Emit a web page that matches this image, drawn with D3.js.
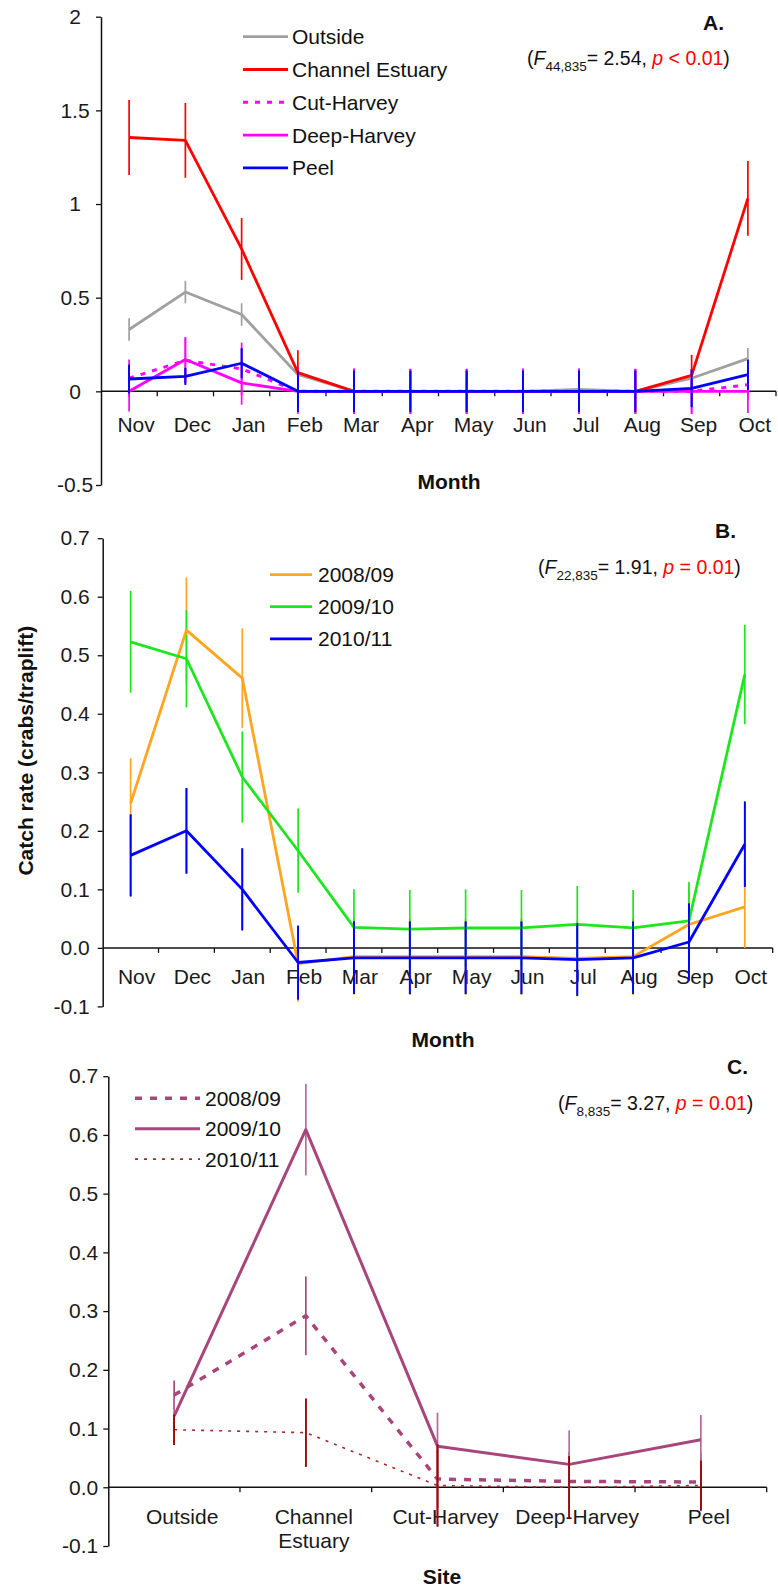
<!DOCTYPE html>
<html><head><meta charset="utf-8">
<script src="https://cdn.jsdelivr.net/npm/d3@7"></script>
<style>
body{margin:0;background:#fff}
svg text{font-family:"Liberation Sans",Arial,sans-serif}
</style>
</head><body>
<svg id="chart" width="778" height="1591"></svg>
<script>
// ---------- Panel A data (by month, per site) ----------
const months = ["Nov","Dec","Jan","Feb","Mar","Apr","May","Jun","Jul","Aug","Sep","Oct"];
const aOutside     = [0.33, 0.53, 0.41, 0.09, 0, 0, 0, 0, 0.01, 0, 0.07, 0.175];
const aOutsideErr  = [0.06, 0.06, 0.06, 0.05, 0.05, 0.05, 0.05, 0.05, 0.05, 0.05, 0.05, 0.056];
const aChannel     = [1.355, 1.34, 0.76, 0.10, 0, 0, 0, 0, 0, 0, 0.085, 1.03];
const aChannelErr  = [0.2, 0.2, 0.165, 0.12, 0.12, 0.12, 0.12, 0.12, 0.12, 0.12, 0.11, 0.2];
const aCut         = [0.07, 0.165, 0.12, 0, 0, 0, 0, 0, 0, 0, 0, 0.035];
const aCutErr      = [0.1, 0.12, 0.14, 0.12, 0.12, 0.12, 0.12, 0.12, 0.12, 0.12, 0.12, 0.08];
const aDeep        = [0, 0.17, 0.045, 0, 0, 0, 0, 0, 0, 0, 0, 0];
const aDeepErr     = [0.107, 0.12, 0.116, 0.107, 0.12, 0.12, 0.12, 0.12, 0.12, 0.12, 0.12, 0.115];
const aPeel        = [0.066, 0.08, 0.15, 0, 0, 0, 0, 0, 0, 0, 0.016, 0.089];
const aPeelErr     = [0.076, 0.045, 0.08, 0.11, 0.11, 0.11, 0.11, 0.11, 0.11, 0.11, 0.1, 0.08];
const aTicks  = [2, 1.5, 1, 0.5, 0, -0.5];
const aTickLabels = ["2", "1.5", "1", "0.5", "0", "-0.5"];

// ---------- Panel B data (by month, per year) ----------
const b0809    = [0.247, 0.543, 0.461, -0.027, -0.015, -0.015, -0.015, -0.015, -0.018, -0.015, 0.04, 0.07];
const b0809Err = [0.077, 0.09, 0.085, 0.065, 0.065, 0.065, 0.065, 0.065, 0.065, 0.065, 0.065, 0.07];
const b0910    = [0.523, 0.494, 0.292, 0.166, 0.035, 0.032, 0.034, 0.034, 0.040, 0.034, 0.046, 0.467];
const b0910Err = [0.087, 0.083, 0.078, 0.072, 0.065, 0.067, 0.066, 0.065, 0.066, 0.065, 0.067, 0.085];
const b1011    = [0.158, 0.2, 0.1, -0.025, -0.017, -0.017, -0.017, -0.017, -0.02, -0.017, 0.01, 0.177];
const b1011Err = [0.07, 0.073, 0.07, 0.063, 0.062, 0.062, 0.062, 0.062, 0.062, 0.062, 0.066, 0.073];
const bcTicks  = [0.7, 0.6, 0.5, 0.4, 0.3, 0.2, 0.1, 0, -0.1];
const bcTickLabels = ["0.7","0.6","0.5","0.4","0.3","0.2","0.1","0.0","-0.1"];

// ---------- Panel C data (by site, per year) ----------
const sites = ["Outside", "Channel Estuary", "Cut-Harvey", "Deep-Harvey", "Peel"];
const c0809    = [0.157, 0.292, 0.014, 0.01, 0.009];
const c0809Err = [0.025, 0.067, 0.05, 0.05, 0.05];
const c0910    = [0.121, 0.609, 0.07, 0.039, 0.081];
const c0910Err = [0.03, 0.078, 0.057, 0.058, 0.042];
const c1011    = [0.098, 0.093, 0.003, 0.0, 0.003];
const c1011Err = [0.026, 0.058, 0.07, 0.053, 0.042];

const svg = d3.select("#chart");

function panel(cfg) {
  const g = svg.append("g");
  const x = d3.scaleBand().domain(cfg.cats).range([cfg.x0, cfg.x1]).padding(0);
  const y = d3.scaleLinear().domain(cfg.yDomain).range(cfg.yRange);
  const y0 = y(0);

  // y axis
  const yAxis = d3.axisLeft(y).tickValues(cfg.yTicks)
    .tickFormat((d, i) => cfg.yLabels[i]).tickSize(5).tickSizeOuter(0).tickPadding(cfg.yPad);
  const ya = g.append("g").attr("transform", `translate(${cfg.x0},0)`).call(yAxis);
  ya.select(".domain").attr("stroke", "#111").attr("stroke-width", 1.5);
  ya.selectAll(".tick line").attr("stroke", "#111").attr("stroke-width", 1.3);
  ya.selectAll(".tick text").attr("font-size", 21).attr("fill", "#1a1a1a")
    .attr("font-family", "Liberation Sans, Arial, sans-serif");
  if (cfg.yAnchor === "middle") ya.selectAll(".tick text").attr("text-anchor", "middle").attr("x", -cfg.yMid);

  // x axis line at zero
  g.append("line").attr("x1", cfg.x0).attr("x2", cfg.x1).attr("y1", y0).attr("y2", y0)
    .attr("stroke", "#111").attr("stroke-width", 1.5);
  g.selectAll(".xt").data(cfg.cats).enter().append("line")
    .attr("x1", d => x(d) + x.bandwidth()).attr("x2", d => x(d) + x.bandwidth())
    .attr("y1", y0).attr("y2", y0 + 5).attr("stroke", "#111").attr("stroke-width", 1.3);

  const cx = d => x(d) + x.bandwidth() / 2;

  // category labels
  const lbl = g.selectAll(".xl").data(cfg.cats).enter().append("text")
    .attr("text-anchor", "middle").attr("font-size", 21).attr("fill", "#1a1a1a")
    .attr("x", d => cx(d) + cfg.labelDx).attr("y", cfg.labelY);
  lbl.each(function(d) {
    const parts = cfg.splitLabels ? d.split(" ") : [d];
    const t = d3.select(this);
    parts.forEach((p, i) => t.append("tspan").attr("x", cx(d) + cfg.labelDx)
      .attr("dy", i === 0 ? 0 : 24).text(p));
  });

  // series
  cfg.series.forEach(s => {
    const pts = cfg.cats.map((c, i) => ({c, v: s.values[i], e: s.errors[i]}));
    g.selectAll(null).data(pts).enter().append("line")
      .attr("x1", d => cx(d.c)).attr("x2", d => cx(d.c))
      .attr("y1", d => y(d.v + d.e)).attr("y2", d => y(d.v - d.e))
      .attr("stroke", s.errColor || s.color).attr("stroke-width", s.errWidth || 1.7);
  });
  cfg.series.forEach(s => {
    const pts = cfg.cats.map((c, i) => ({c, v: s.values[i]}));
    const line = d3.line().x(d => cx(d.c)).y(d => y(d.v));
    g.append("path").datum(pts).attr("d", line).attr("fill", "none")
      .attr("stroke", s.color).attr("stroke-width", s.width)
      .attr("stroke-dasharray", s.dash || null).attr("stroke-linejoin", "round");
  });
  // error bars of the last series drawn on top (as in the original)
  if (cfg.topBarsSeries !== undefined) {
    const s = cfg.series[cfg.topBarsSeries];
    const pts = cfg.cats.map((c, i) => ({c, v: s.values[i], e: s.errors[i]}));
    g.selectAll(null).data(pts).enter().append("line")
      .attr("x1", d => cx(d.c)).attr("x2", d => cx(d.c))
      .attr("y1", d => y(d.v + d.e)).attr("y2", d => y(d.v - d.e))
      .attr("stroke", s.errColor || s.color).attr("stroke-width", s.errWidth || 1.7);
  }

  // legend
  cfg.series.forEach((s, i) => {
    const ly = cfg.legend.y + i * cfg.legend.dy;
    g.append("line").attr("x1", cfg.legend.x1).attr("x2", cfg.legend.x2)
      .attr("y1", ly).attr("y2", ly).attr("stroke", s.color)
      .attr("stroke-width", s.legendWidth || s.width).attr("stroke-dasharray", s.dash || null);
    g.append("text").attr("x", cfg.legend.tx).attr("y", ly + 7.5).attr("font-size", 21)
      .attr("fill", "#111").text(s.name);
  });

  // x title
  g.append("text").attr("x", cfg.xTitle.x).attr("y", cfg.xTitle.y).attr("text-anchor", "middle")
    .attr("font-size", 21).attr("font-weight", "bold").attr("fill", "#111").text(cfg.xTitle.text);

  // panel letter
  g.append("text").attr("x", cfg.letter.x).attr("y", cfg.letter.y).attr("font-size", 21)
    .attr("font-weight", "bold").attr("fill", "#111").text(cfg.letter.text);

  // statistics
  const st = g.append("text").attr("x", cfg.stat.x).attr("y", cfg.stat.y)
    .attr("font-size", 19.5).attr("fill", "#111");
  st.append("tspan").text("(");
  st.append("tspan").attr("font-style", "italic").text("F");
  st.append("tspan").attr("font-size", 13.5).attr("dy", 6).text(cfg.stat.df);
  st.append("tspan").attr("dy", -6).text("= " + cfg.stat.f + ", ");
  st.append("tspan").attr("font-style", "italic").attr("fill", "#ff0000").text("p");
  st.append("tspan").attr("fill", "#ff0000").text(" " + cfg.stat.p);
  st.append("tspan").text(")");
  return {x, y};
}

// Panel A
panel({
  cats: months, x0: 101, x1: 776, yDomain: [-0.5, 2], yRange: [485, 16.7],
  yTicks: aTicks, yLabels: aTickLabels, yPad: 8, yAnchor: "middle", yMid: 26,
  labelDx: 7, labelY: 431.5, splitLabels: false,
  series: [
    {name: "Outside", values: aOutside, errors: aOutsideErr, color: "#a0a0a0", width: 2.8},
    {name: "Channel Estuary", values: aChannel, errors: aChannelErr, color: "#ff0000", width: 2.8},
    {name: "Cut-Harvey", values: aCut, errors: aCutErr, color: "#ff00ff", width: 3, dash: "5,7"},
    {name: "Deep-Harvey", values: aDeep, errors: aDeepErr, color: "#ff00ff", width: 2.8},
    {name: "Peel", values: aPeel, errors: aPeelErr, color: "#0000ff", width: 2.8}
  ],
  topBarsSeries: 4,
  legend: {x1: 243, x2: 288, tx: 292, y: 36.7, dy: 32.8},
  xTitle: {x: 449, y: 489, text: "Month"},
  letter: {x: 703, y: 29.5, text: "A."},
  stat: {x: 527, y: 64.5, df: "44,835", f: "2.54", p: "< 0.01"}
});

// Panel B
panel({
  cats: months, x0: 102.7, x1: 772.7, yDomain: [-0.1, 0.7], yRange: [1006.4, 538.2],
  yTicks: bcTicks, yLabels: bcTickLabels, yPad: 8,
  labelDx: 6, labelY: 984, splitLabels: false,
  series: [
    {name: "2008/09", values: b0809, errors: b0809Err, color: "#ffa51f", width: 2.8},
    {name: "2009/10", values: b0910, errors: b0910Err, color: "#1ee61e", width: 2.8},
    {name: "2010/11", values: b1011, errors: b1011Err, color: "#0000ff", width: 2.8}
  ],
  topBarsSeries: 2,
  legend: {x1: 270, x2: 312, tx: 318, y: 574.6, dy: 32.1},
  xTitle: {x: 443, y: 1047, text: "Month"},
  letter: {x: 715, y: 537.5, text: "B."},
  stat: {x: 538, y: 574, df: "22,835", f: "1.91", p: "= 0.01"}
});

// y title (shared, placed beside panel B)
svg.append("text").attr("transform", "translate(33,750.7) rotate(-90)").attr("text-anchor", "middle")
  .attr("font-size", 21).attr("font-weight", "bold").attr("fill", "#111")
  .text("Catch rate (crabs/traplift)");

// Panel C
panel({
  cats: sites, x0: 108.3, x1: 766.7, yDomain: [-0.1, 0.7], yRange: [1546, 1076.2],
  yTicks: bcTicks, yLabels: bcTickLabels, yPad: 5,
  labelDx: 8, labelY: 1524.3, splitLabels: true,
  series: [
    {name: "2008/09", values: c0809, errors: c0809Err, color: "#a8467c", width: 3.5, dash: "7,8", legendWidth: 3.5},
    {name: "2009/10", values: c0910, errors: c0910Err, color: "#a8467c", width: 3, errColor: "#b8689a"},
    {name: "2010/11", values: c1011, errors: c1011Err, color: "#a52a2a", width: 1.6, dash: "3,6", errColor: "#9a0a0a"}
  ],
  topBarsSeries: 2,
  legend: {x1: 135, x2: 200, tx: 205, y: 1098.3, dy: 30.4},
  xTitle: {x: 442, y: 1584, text: "Site"},
  letter: {x: 727, y: 1074, text: "C."},
  stat: {x: 558, y: 1110, df: "8,835", f: "3.27", p: "= 0.01"}
});
</script>
</body></html>
